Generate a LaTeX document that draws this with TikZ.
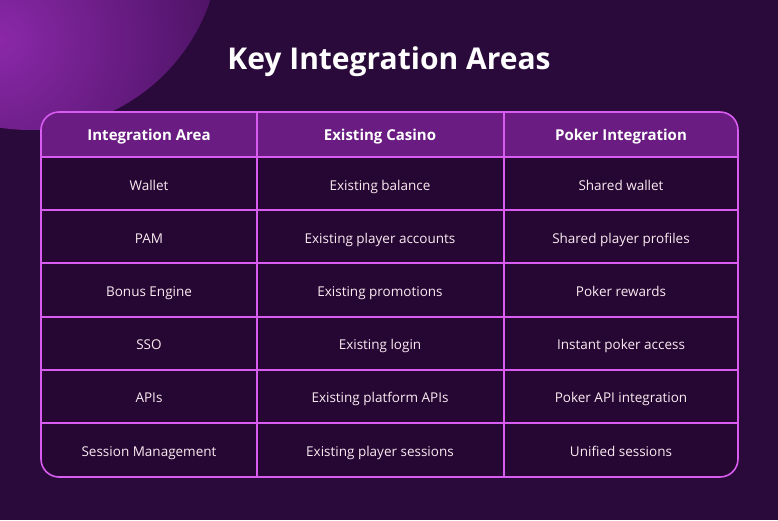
\documentclass[tikz,border=0pt]{standalone}
\usepackage{fontspec}
\setmainfont{Open Sans}[Ligatures=NoCommon]
\begin{document}
\begin{tikzpicture}[x=1pt,y=-1pt,
  cell/.style={text=white!92!purple,font=\fontsize{13.5}{16}\selectfont,text height=10pt,text depth=3pt},
  head/.style={text=white,font=\bfseries\fontsize{15}{18}\selectfont,text height=11pt,text depth=3pt}]
\definecolor{bg}{HTML}{2A0A3A}
\definecolor{bd}{HTML}{D85CF0}
\definecolor{hd}{HTML}{6A1C82}
\definecolor{bodyc}{HTML}{260633}
\definecolor{glowa}{HTML}{8A28A8}
\definecolor{glowb}{HTML}{4A1262}
\useasboundingbox (0,0) rectangle (778,520);
\fill[bg] (0,0) rectangle (778,520);
\begin{scope}
\clip (30,-60) circle (190);
\shade[inner color=glowa,outer color=glowb] (0,40) circle (230);
\end{scope}
\draw[white!30!bg,line width=2] (30,-60) ++(235:190) arc (235:320:190);
\node[text=white,font=\bfseries\fontsize{30}{36}\selectfont] (title) at (389,62) {Key Integration Areas};
\begin{scope}
\clip[rounded corners=18] (41,112) rectangle (738,477);
\fill[bodyc] (41,112) rectangle (738,477);
\fill[hd] (41,112) rectangle (738,157);
\end{scope}
\draw[bd,line width=1.6,rounded corners=18] (41,112) rectangle (738,477);
\foreach \y in {157,210,263,317,370,423} \draw[bd,line width=1.6] (41,\y) -- (738,\y);
\foreach \x in {257,504} \draw[bd,line width=1.6] (\x,112) -- (\x,477);
\node[head] (h1) at (149,136) {Integration Area};
\node[head] (h2) at (380,136) {Existing Casino};
\node[head] (h3) at (621,136) {Poker Integration};
\foreach \i/\a/\b/\c in {0/Wallet/Existing balance/Shared wallet,
  1/PAM/Existing player accounts/Shared player profiles,
  2/Bonus Engine/Existing promotions/Poker rewards,
  3/SSO/Existing login/Instant poker access,
  4/APIs/Existing platform APIs/Poker API integration,
  5/Session Management/Existing player sessions/Unified sessions}{
  \pgfmathsetmacro{\yy}{186.5+53.2*\i}
  \node[cell] (a\i) at (149,\yy) {\a};
  \node[cell] (b\i) at (380,\yy) {\b};
  \node[cell] (c\i) at (621,\yy) {\c};
}
\end{tikzpicture}
\end{document}
